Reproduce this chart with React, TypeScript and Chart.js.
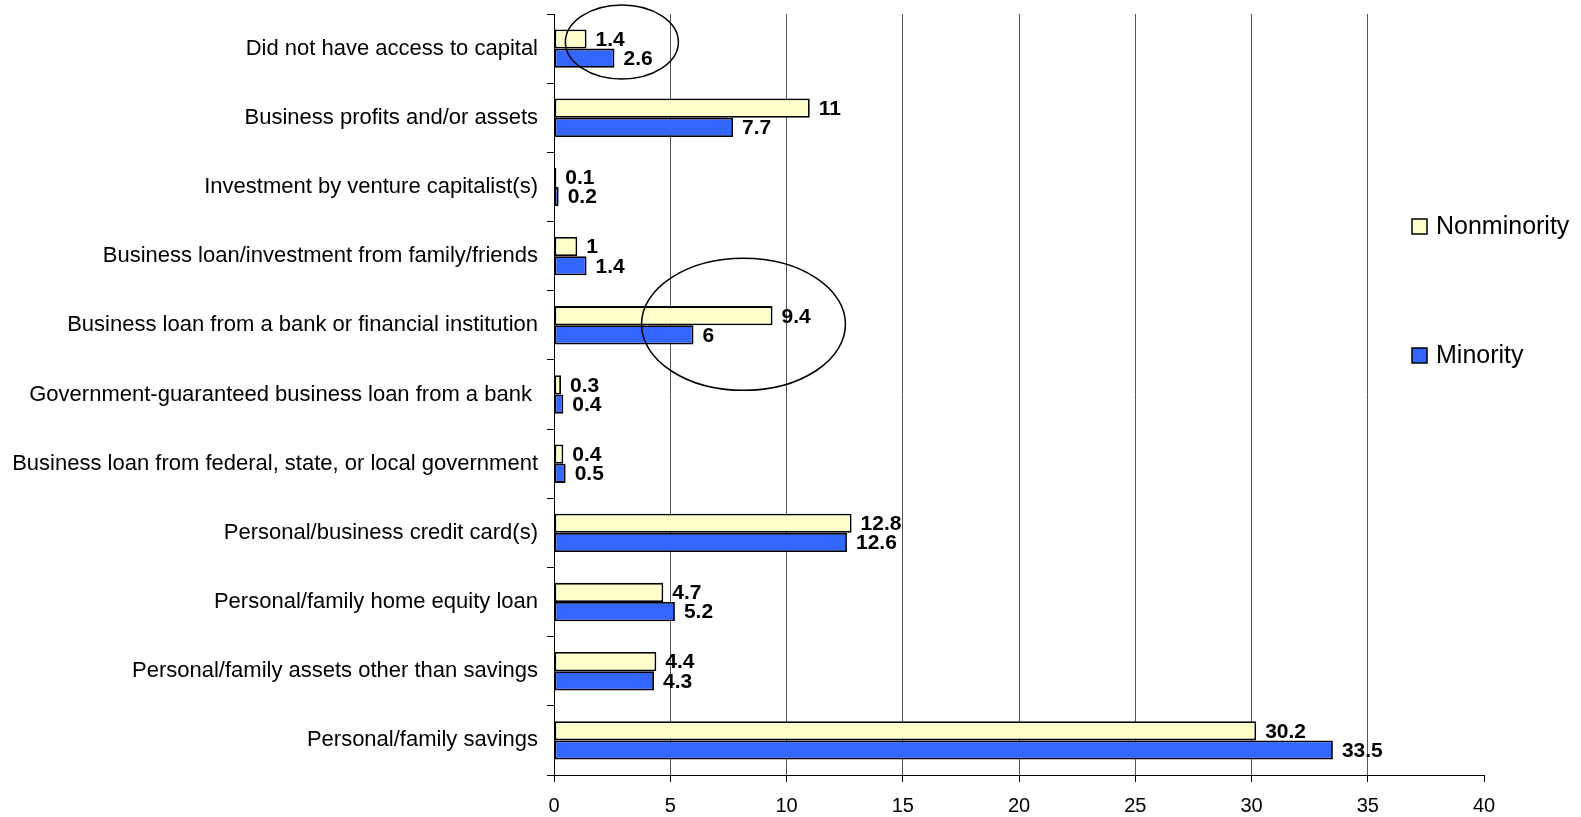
import React, { useEffect, useRef } from "react";
import { Chart, registerables } from "chart.js";

Chart.register(...registerables);

const categories = [
  "Did not have access to capital",
  "Business profits and/or assets",
  "Investment by venture capitalist(s)",
  "Business loan/investment from family/friends",
  "Business loan from a bank or financial institution",
  "Government-guaranteed business loan from a bank ",
  "Business loan from federal, state, or local government",
  "Personal/business credit card(s)",
  "Personal/family home equity loan",
  "Personal/family assets other than savings",
  "Personal/family savings",
];

const nonminorityValues = [1.4, 11, 0.1, 1, 9.4, 0.3, 0.4, 12.8, 4.7, 4.4, 30.2];
const minorityValues = [2.6, 7.7, 0.2, 1.4, 6, 0.4, 0.5, 12.6, 5.2, 4.3, 33.5];

const seriesNames = ["Nonminority", "Minority"];
const seriesColors = ["#FFFFCC", "#3366FF"];

const xTicks = [0, 5, 10, 15, 20, 25, 30, 35, 40];

// Highlight ellipses (annotation): category index, centre value, x radius in value units
const highlightCategory = [0, 4];
const highlightCenter = [2.92, 8.15];
const highlightRadius = [2.43, 4.385];

const FONT = "'Liberation Sans', Arial, sans-serif";

const valueLabelsPlugin = {
  id: "valueLabels",
  afterDatasetsDraw(chart: any) {
    const ctx = chart.ctx;
    ctx.save();
    ctx.font = `bold 21px ${FONT}`;
    ctx.fillStyle = "#000";
    ctx.textBaseline = "middle";
    ctx.textAlign = "left";
    chart.data.datasets.forEach((ds: any, di: number) => {
      const meta = chart.getDatasetMeta(di);
      meta.data.forEach((bar: any, i: number) => {
        ctx.fillText(String(ds.data[i]), bar.x + 9, bar.y + 1);
      });
    });
    ctx.restore();
  },
};

const ellipsePlugin = {
  id: "ellipses",
  afterDatasetsDraw(chart: any) {
    const ctx = chart.ctx;
    const xs = chart.scales.x;
    const ys = chart.scales.y;
    const catH = (ys.bottom - ys.top) / categories.length;
    const yOffsets = [-0.095, -0.015];
    const yRadii = [0.535, 0.955];
    ctx.save();
    ctx.strokeStyle = "#000";
    ctx.lineWidth = 1.5;
    highlightCategory.forEach((c, k) => {
      const cx = xs.getPixelForValue(highlightCenter[k]);
      const rx = xs.getPixelForValue(highlightCenter[k] + highlightRadius[k]) - cx;
      const cy = ys.getPixelForValue(c) + yOffsets[k] * catH;
      const ry = yRadii[k] * catH;
      ctx.beginPath();
      ctx.ellipse(cx, cy, rx, ry, 0, 0, Math.PI * 2);
      ctx.stroke();
    });
    ctx.restore();
  },
};

const legendPlugin = {
  id: "customLegend",
  afterDraw(chart: any) {
    const ctx = chart.ctx;
    const boxX = 1412;
    const textX = 1436;
    const ys = [226, 355];
    ctx.save();
    ctx.font = `25px ${FONT}`;
    ctx.textBaseline = "middle";
    ctx.textAlign = "left";
    chart.data.datasets.forEach((ds: any, i: number) => {
      const y = ys[i];
      ctx.fillStyle = ds.backgroundColor;
      ctx.fillRect(boxX, y - 7, 15, 15);
      ctx.strokeStyle = "#000";
      ctx.lineWidth = 1.5;
      ctx.strokeRect(boxX, y - 7, 15, 15);
      ctx.fillStyle = "#000";
      ctx.fillText(ds.label, textX, y + 1);
    });
    ctx.restore();
  },
};

export default function App() {
  const canvasRef = useRef<HTMLCanvasElement | null>(null);

  useEffect(() => {
    if (!canvasRef.current) return;
    const chart = new Chart(canvasRef.current, {
      type: "bar",
      data: {
        labels: categories,
        datasets: [
          {
            label: seriesNames[0],
            data: nonminorityValues,
            backgroundColor: seriesColors[0],
            borderColor: "#000",
            borderWidth: 1.8,
            borderSkipped: false,
            categoryPercentage: 0.555,
            barPercentage: 1,
          },
          {
            label: seriesNames[1],
            data: minorityValues,
            backgroundColor: seriesColors[1],
            borderColor: "#000",
            borderWidth: 1.8,
            borderSkipped: false,
            categoryPercentage: 0.555,
            barPercentage: 1,
          },
        ],
      },
      options: {
        indexAxis: "y",
        animation: false,
        responsive: false,
        layout: { padding: { top: 14, right: 97, bottom: 0, left: 0 } },
        plugins: {
          legend: { display: false },
          tooltip: { enabled: false },
        },
        scales: {
          x: {
            min: 0,
            max: 40,
            afterBuildTicks: (scale: any) => {
              scale.ticks = xTicks.map((v) => ({ value: v }));
            },
            afterFit: (scale: any) => {
              scale.height = 42;
            },
            ticks: {
              stepSize: 5,
              color: "#000",
              font: { family: FONT, size: 20 },
              padding: 12,
            },
            grid: {
              color: (ctx: any) =>
                ctx.tick && (ctx.tick.value === 0 || ctx.tick.value === 40)
                  ? "rgba(0,0,0,0)"
                  : "#555555",
              tickColor: "#000",
              tickLength: 7,
              lineWidth: 1,
            },
            border: { display: true, color: "#000", width: 1 },
          },
          y: {
            afterFit: (scale: any) => {
              scale.width = 554;
              scale.paddingTop = 0;
              scale.paddingBottom = 0;
            },
            ticks: {
              color: "#000",
              font: { family: FONT, size: 22 },
              padding: 9,
            },
            grid: {
              drawOnChartArea: false,
              drawTicks: true,
              tickLength: 7,
              color: "#000",
              tickColor: "#000",
              offset: true,
            },
            border: { display: true, color: "#000", width: 1 },
          },
        },
      },
      plugins: [valueLabelsPlugin, ellipsePlugin, legendPlugin],
    });
    return () => chart.destroy();
  }, []);

  return (
    <div style={{ position: "fixed", left: 0, top: 0, width: 1581, height: 817, background: "#fff" }}>
      <canvas ref={canvasRef} width={1581} height={817} />
    </div>
  );
}
